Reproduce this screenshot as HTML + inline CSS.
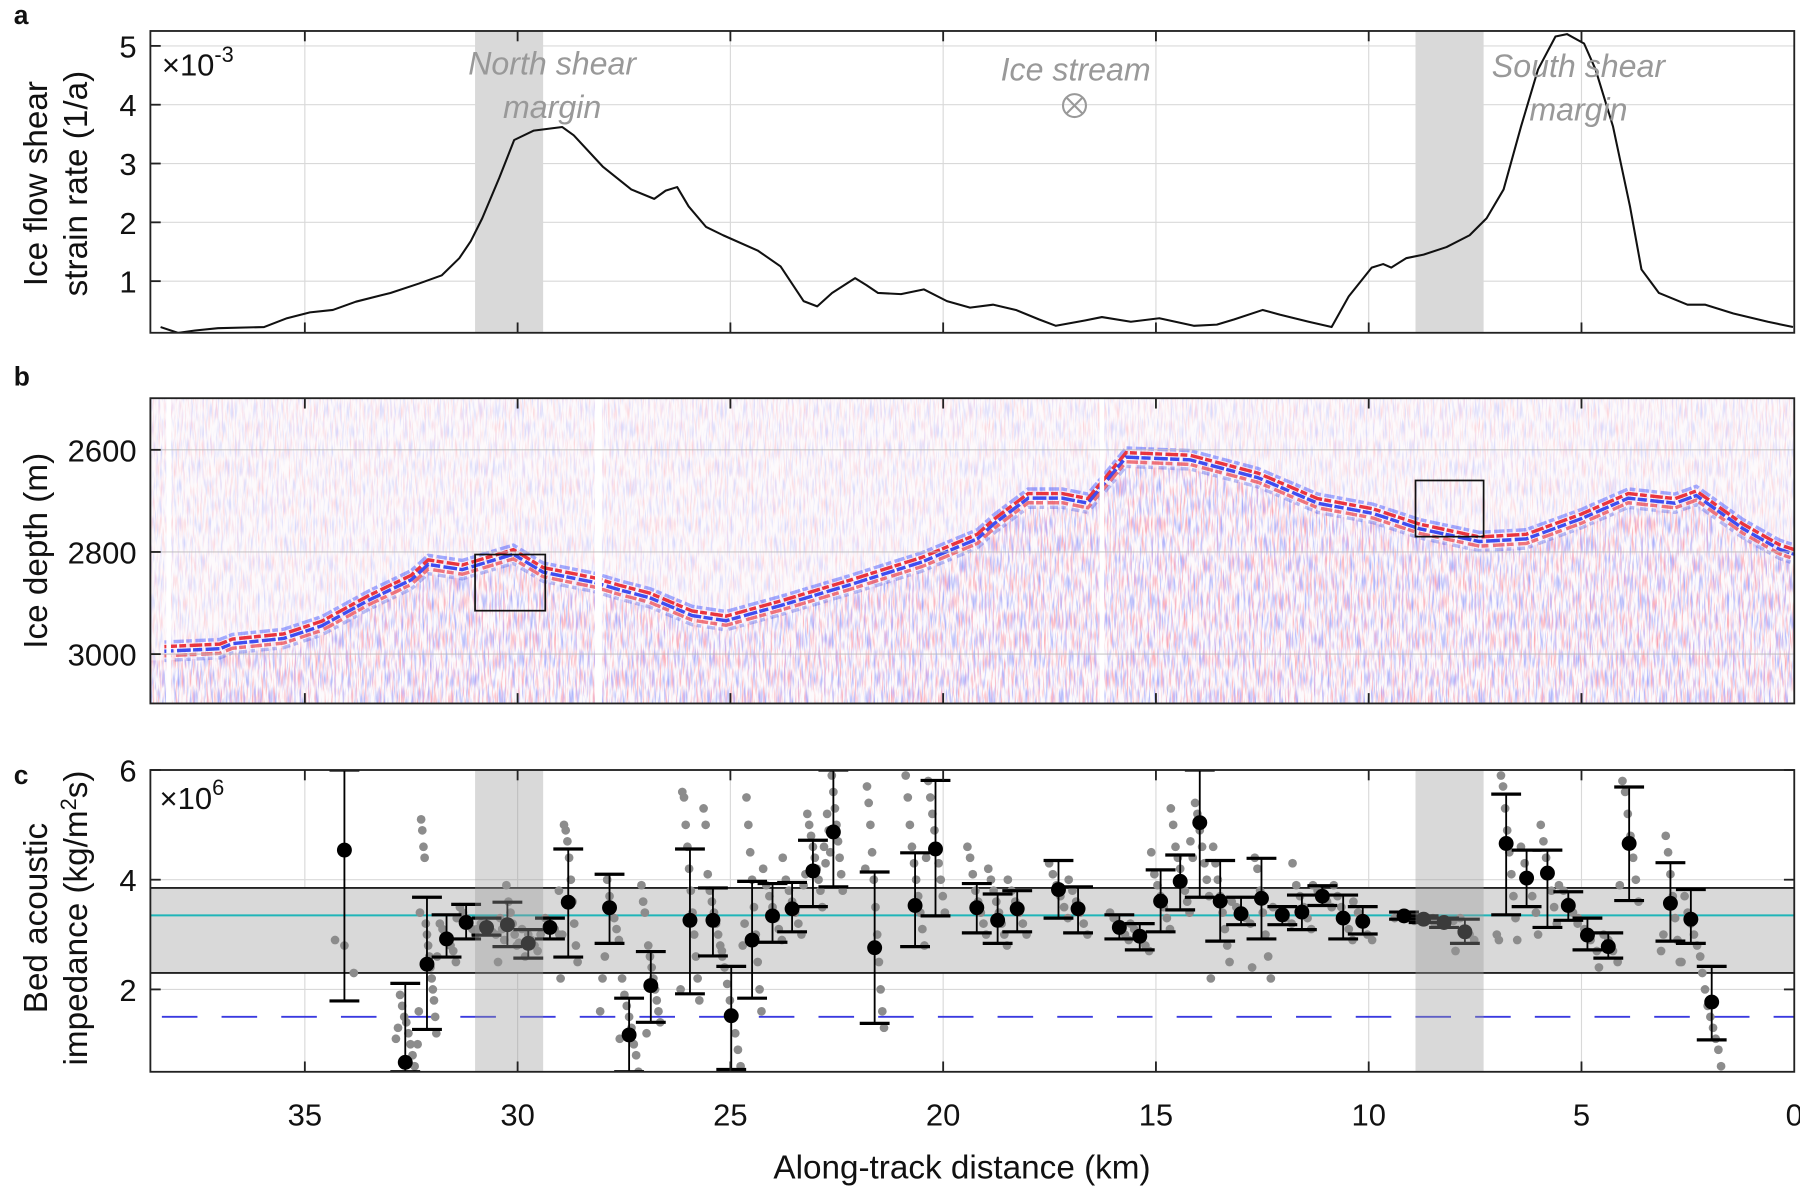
<!DOCTYPE html>
<html><head><meta charset="utf-8"><style>
html,body{margin:0;padding:0;background:#fff;}
svg{display:block;font-family:"Liberation Sans","DejaVu Sans",sans-serif;}
</style></head><body>
<svg id="fig" width="1800" height="1190" viewBox="0 0 1568 1037" preserveAspectRatio="none" xmlns="http://www.w3.org/2000/svg">
<defs>
<filter id="radarNoise" x="0" y="0" width="1" height="1">
<feTurbulence type="fractalNoise" baseFrequency="0.6 0.06" numOctaves="2" seed="3" result="n"/>
<feColorMatrix in="n" type="matrix" values="0 0 0 0 0.95  0 0 0 0 0.15  0 0 0 0 0.2  2.6 0 0 0 -1.25" result="r"/>
<feColorMatrix in="n" type="matrix" values="0 0 0 0 0.15  0 0 0 0 0.2  0 0 0 0 0.95  0 2.6 0 0 -1.25" result="b"/>
<feMerge><feMergeNode in="r"/><feMergeNode in="b"/></feMerge>
</filter>
<clipPath id="clipB"><rect x="131" y="347" width="1432" height="266"/></clipPath>
<clipPath id="clipC"><rect x="131" y="671" width="1432" height="263"/></clipPath>
<clipPath id="clipA"><rect x="131" y="27" width="1432" height="263"/></clipPath>
</defs>
<g id="layer"></g>
</svg>
<script>
// ---------- Panel a data ----------
const strainKm = [38.39,37.98,37.58,37.04,35.96,35.42,34.88,34.34,33.80,32.99,32.32,31.78,31.37,31.10,30.83,30.43,30.08,29.62,28.95,28.68,28.00,27.33,26.79,26.52,26.25,25.98,25.57,25.17,24.36,23.82,23.28,22.96,22.61,22.07,21.80,21.53,20.99,20.45,19.91,19.37,18.83,18.29,17.75,17.35,16.67,16.27,15.59,14.92,14.11,13.57,13.16,12.49,12.09,11.41,10.87,10.47,9.93,9.66,9.47,9.12,8.71,8.17,7.63,7.23,6.83,6.42,6.02,5.61,5.34,4.94,4.67,4.26,3.86,3.59,3.18,2.51,2.10,1.43,0.62,0.03];
const strainVal = [0.22,0.12,0.16,0.2,0.22,0.37,0.47,0.51,0.65,0.8,0.96,1.1,1.39,1.68,2.07,2.76,3.4,3.56,3.62,3.48,2.95,2.56,2.4,2.54,2.6,2.27,1.92,1.78,1.52,1.25,0.66,0.57,0.8,1.05,0.93,0.8,0.78,0.86,0.66,0.55,0.6,0.51,0.35,0.24,0.33,0.39,0.31,0.37,0.24,0.26,0.35,0.51,0.43,0.31,0.22,0.74,1.23,1.29,1.23,1.39,1.45,1.58,1.78,2.07,2.56,3.63,4.6,5.16,5.2,5.04,4.6,3.63,2.27,1.2,0.8,0.6,0.6,0.45,0.31,0.22];
const aTicks = [1,2,3,4,5];
const xTicks = [35,30,25,20,15,10,5,0];
// ---------- Panel b data ----------
const bedKm = [38.3,37.0,36.7,35.5,34.6,33.5,32.5,32.1,31.3,30.9,30.1,29.4,28.2,27.6,26.9,25.9,25.1,23.8,22.2,20.5,19.2,18.8,18.0,17.2,16.6,16.2,15.7,14.2,12.6,11.2,9.9,8.8,7.4,6.3,5.0,3.9,2.8,2.3,1.2,0.35,0];
const bedDepth = [2990,2985,2975,2965,2940,2890,2850,2820,2830,2820,2800,2835,2855,2870,2885,2920,2930,2900,2860,2815,2770,2740,2690,2690,2700,2660,2610,2615,2650,2700,2720,2750,2775,2770,2730,2690,2700,2685,2750,2790,2800];
const depthTicks = [2600,2800,3000];
// ---------- Panel c data ----------
const impKm = [34.07,32.64,32.13,31.67,31.21,30.73,30.24,29.75,29.24,28.81,27.84,27.38,26.87,25.95,25.41,24.98,24.49,24.01,23.55,23.06,22.58,21.61,20.66,20.18,19.21,18.72,18.26,17.29,16.83,15.86,15.38,14.89,14.43,13.97,13.49,13.00,12.52,12.03,11.57,11.09,10.60,10.14,9.17,8.71,8.23,7.74,6.77,6.29,5.80,5.31,4.86,4.37,3.88,2.91,2.43,1.94];
const impMean = [4.54,0.67,2.46,2.92,3.22,3.13,3.18,2.84,3.13,3.59,3.49,1.17,2.07,3.26,3.26,1.52,2.90,3.34,3.47,4.16,4.87,2.76,3.53,4.56,3.49,3.26,3.47,3.82,3.47,3.13,2.97,3.61,3.97,5.04,3.61,3.38,3.66,3.36,3.41,3.70,3.30,3.24,3.34,3.28,3.22,3.05,4.66,4.03,4.12,3.53,2.99,2.78,4.66,3.57,3.28,1.77];
const impHigh = [6.0,2.11,3.68,3.36,3.55,3.30,3.59,3.09,3.30,4.56,4.10,1.84,2.69,4.56,3.85,2.42,3.97,3.93,3.95,4.72,6.0,4.14,4.49,5.81,3.93,3.74,3.80,4.35,3.87,3.36,3.20,4.18,4.45,6.0,4.35,3.68,4.39,3.51,3.72,3.89,3.72,3.51,3.41,3.34,3.30,3.28,5.56,4.54,4.54,3.78,3.30,3.03,5.69,4.31,3.82,2.42];
const impLow = [1.79,0.5,1.27,2.59,2.92,2.99,2.78,2.57,2.92,2.59,2.84,0.5,1.40,1.92,2.61,0.54,1.84,2.86,3.05,3.51,3.87,1.38,2.78,3.34,3.03,2.84,3.05,3.30,3.03,2.92,2.72,3.05,3.45,3.68,2.88,3.18,2.92,3.18,3.09,3.53,2.92,3.01,3.28,3.22,3.13,2.84,3.36,3.51,3.13,3.26,2.72,2.57,3.62,2.88,2.84,1.08];
const impSamples = [
[2.3,2.8,2.9],[0.6,0.8,1.0,1.2,1.4,1.5,1.7,1.9,1.3,1.1],[1.2,1.5,1.8,2.0,2.2,2.4,2.6,2.8,3.0,3.2,4.4,4.6,4.9,5.1,3.4,1.6,1.0],
[2.5,2.7,2.8,2.9,3.0,3.1,3.2,2.6],[3.0,3.1,3.2,3.3,3.4,3.5,3.3],[3.0,3.05,3.1,3.15,3.2,3.1],[2.8,3.0,3.2,3.4,3.6,3.9,2.9,3.1,3.3,2.5],
[2.7,2.8,2.9,3.0,2.6,3.1,2.85],[3.0,3.1,3.2,3.3,3.0],[2.5,2.8,3.2,3.6,4.0,4.4,4.7,4.9,5.0,3.0,2.2,3.8],[2.9,3.1,3.3,3.5,3.7,4.0,2.6,2.2,1.6],
[0.5,0.8,1.0,1.3,1.5,1.7,1.9,2.2,1.1],[1.4,1.6,1.8,2.0,2.2,2.4,2.6,2.8,1.2,3.4,3.6,3.9],[1.8,2.2,2.6,3.0,3.4,3.8,4.2,4.6,5.0,5.5,5.6,2.0],
[2.6,2.8,3.0,3.2,3.4,3.6,3.8,4.1,5.0,5.3],[0.6,0.9,1.2,1.5,1.8,2.1,2.4,2.7],[1.6,2.0,2.5,3.0,3.5,4.0,4.5,5.0,5.5,3.2,2.8],
[2.9,3.1,3.3,3.5,3.7,3.9,4.2],[3.0,3.2,3.4,3.6,3.8,4.0,4.4],[3.5,3.8,4.0,4.2,4.4,4.6,4.8,5.0,5.2,4.1,3.9],
[3.8,4.1,4.4,4.7,5.0,5.3,5.6,5.9,4.5,4.9,5.2,4.3,4.6],[1.3,1.6,2.0,2.5,3.0,3.5,4.0,4.5,5.0,5.4,5.7,4.2],[2.8,3.1,3.4,3.7,4.0,4.3,4.6,5.0,5.5,5.9],
[3.4,3.7,4.0,4.3,4.6,4.9,5.2,5.5,5.8,4.4],[3.0,3.2,3.4,3.6,3.8,4.1,4.4,4.6],[2.8,3.0,3.2,3.4,3.6,3.8,4.0,4.2],[3.0,3.2,3.4,3.6,3.8,4.0],
[3.3,3.5,3.7,3.9,4.1,4.3],[3.0,3.2,3.4,3.6,3.8,4.0],[2.9,3.0,3.1,3.2,3.3,3.4],[2.7,2.8,2.9,3.0,3.1,3.2],[3.1,3.3,3.5,3.7,3.9,4.1,4.5],
[3.4,3.6,3.8,4.0,4.2,4.4,4.6,5.0,5.3],[3.7,4.0,4.3,4.6,4.9,5.2,5.4,4.4,4.7],[2.5,2.8,3.1,3.4,3.7,4.0,4.3,4.6,2.2],[3.2,3.3,3.4,3.5,3.6],
[2.2,2.6,3.0,3.4,3.8,4.2,4.4,2.4],[3.2,3.3,3.4,3.5],[3.1,3.3,3.5,3.7,3.9,4.3],[3.5,3.6,3.7,3.8,3.9],[2.9,3.1,3.3,3.5,3.7,3.9],
[2.9,3.0,3.2,3.4,3.6],[3.35,3.3],[3.3,3.25],[3.25,3.2],[2.9,3.0,3.1,3.3,2.7],[3.3,3.7,4.1,4.5,4.9,5.3,5.7,5.9,2.9,3.0],
[3.4,3.7,4.0,4.3,4.6,2.9],[3.2,3.5,3.8,4.1,4.4,4.7,5.0,3.0],[3.2,3.4,3.6,3.8,3.9],[2.7,2.9,3.1,3.3],[2.5,2.7,2.9,3.0,2.4],
[3.6,4.0,4.4,4.8,5.2,5.6,5.8,3.9],[2.5,2.9,3.3,3.7,4.1,4.5,4.8,3.0,2.7],[2.6,2.8,3.0,3.2,3.4,3.7,2.5],[0.6,0.9,1.1,1.3,1.5,1.7,2.0,2.3]];
const cTicks = [2,4,6];
const rangeBand = [2.3,3.85];
const cyanLevel = [3.35];
const dashedLevel = [1.5];
const marginBands = [[31.0,29.4],[8.9,7.3]];

const NS='http://www.w3.org/2000/svg';
const root=document.getElementById('layer');
function mk(tag,attrs,parent){const e=document.createElementNS(NS,tag);for(const k in attrs)e.setAttribute(k,attrs[k]);(parent||root).appendChild(e);return e;}
function txt(s,attrs,parent){const e=mk('text',attrs,parent);e.textContent=s;return e;}
const L=131,R=1563;
const X=km=>R-km*37.07;
const Ya=v=>40+(5-v)*51.25;
const Yb=d=>392+(d-2600)*0.445;
const Yc=v=>671+(6-v)*47.8;

function panelFrame(top,bot,name){
  const r=mk('rect',{x:L,y:top,width:R-L,height:bot-top,fill:'none',stroke:'#222','stroke-width':1.6});
  
  
}
function xGrid(top,bot,g){
  xTicks.forEach(t=>{ if(t===0)return; const x=X(t);
    const gl=mk('line',{x1:x,x2:x,y1:top,y2:bot,stroke:'#d9d9d9','stroke-width':1},g);
    
    
  });
}
function xTickMarks(top,bot,g){
  xTicks.forEach(t=>{ if(t===0)return; const x=X(t);
    mk('line',{x1:x,x2:x,y1:top,y2:top+9,stroke:'#222','stroke-width':1.6},g);
    mk('line',{x1:x,x2:x,y1:bot-9,y2:bot,stroke:'#222','stroke-width':1.6},g);
  });
}

// ================= Panel a =================
const ga=mk('g',{});


xGrid(27,290,ga);
aTicks.forEach(t=>{const y=Ya(t);
  const gl=mk('line',{x1:L,x2:R,y1:y,y2:y,stroke:'#d9d9d9','stroke-width':1},ga);
  
  
  mk('line',{x1:L,x2:L+9,y1:y,y2:y,stroke:'#222','stroke-width':1.6},ga);
  const tl=txt(String(t),{x:L-12,y:y+10,'font-size':27,'text-anchor':'end',fill:'#111'},ga);
  
  
});
marginBands.forEach((b,i)=>{
  const r=mk('rect',{x:X(b[0]),y:27,width:X(b[1])-X(b[0]),height:263,fill:'#d9d9d9','clip-path':'url(#clipA)'},ga);
  
  
});
xTickMarks(27,290,ga);
{
  const pts=strainKm.map((k,i)=>X(k).toFixed(1)+','+Ya(strainVal[i]).toFixed(1)).join(' ');
  const pl=mk('polyline',{points:pts,fill:'none',stroke:'#111','stroke-width':1.8,'clip-path':'url(#clipA)','stroke-linejoin':'round'},ga);
  
  
}
panelFrame(27,290,'panel-a-frame');
{
  const t=txt('×10',{x:141,y:66,'font-size':27,fill:'#111'});
  
  
  const ts=mk('tspan',{dy:-12,'font-size':19},t); ts.textContent='-3';
}
[['North shear',481,65],['margin',481,103],['Ice stream',937,70],['South shear',1375,67],['margin',1375,105]].forEach(a=>{
  const t=txt(a[0],{x:a[1],y:a[2],'font-size':28,'font-style':'italic','text-anchor':'middle',fill:'#999'});
  
  
});
{
  const g=mk('g',{});
  
  
  mk('circle',{cx:936,cy:92,r:10,fill:'none',stroke:'#999','stroke-width':1.8},g);
  mk('line',{x1:929,y1:85,x2:943,y2:99,stroke:'#999','stroke-width':1.8},g);
  mk('line',{x1:943,y1:85,x2:929,y2:99,stroke:'#999','stroke-width':1.8},g);
}
function rotLabel(lines,cx,cy,name){
  lines.forEach((s,i)=>{
    const x=cx+i*35, t=txt('',{x:x,y:cy,'font-size':29,'text-anchor':'middle',fill:'#111',transform:`rotate(-90 ${x} ${cy})`});
    if(typeof s==='string') t.textContent=s; else { s.forEach(p=>{const sp=mk('tspan',p[1]||{},t); sp.textContent=p[0];}); }
    
    
  });
}
rotLabel(['Ice flow shear','strain rate (1/a)'],41,160,'y-axis-title-a');

// ================= Panel b =================
const gb=mk('g',{'clip-path':'url(#clipB)'});


mk('rect',{x:L,y:347,width:R-L,height:266,fill:'#fdfafc'},gb);
mk('rect',{x:L,y:347,width:R-L,height:266,filter:'url(#radarNoise)',opacity:0.28},gb);
{
  const poly=bedKm.map((k,i)=>X(k).toFixed(1)+','+(Yb(bedDepth[i])+10).toFixed(1)).join(' ')+` ${X(0)},613 ${X(38.7)},613 ${X(38.7)},${Yb(bedDepth[0])+10}`;
  const cp=mk('clipPath',{id:'belowBed'},document.querySelector('defs'));
  mk('polygon',{points:poly},cp);
  mk('rect',{x:L,y:347,width:R-L,height:266,filter:'url(#radarNoise)',opacity:0.45,'clip-path':'url(#belowBed)'},gb);
  const offs=[[-6,'#4a5cff',0.5,'5 3 9 2'],[-2,'#e8202a',0.9,'11 2 6 3'],[2,'#2a3cf0',0.9,'8 3 12 2'],[6,'#e8202a',0.6,'6 4 10 2'],[10,'#3a4ce8',0.35,'4 5 7 3']];
  offs.forEach(o=>{
    const pts=bedKm.map((k,i)=>X(k).toFixed(1)+','+(Yb(bedDepth[i])+o[0]).toFixed(1)).join(' ');
    const pl=mk('polyline',{points:pts,fill:'none',stroke:o[1],'stroke-width':3,opacity:o[2],'stroke-dasharray':o[3]},gb);
    
    
  });
}
[[28.1,6],[16.27,4],[38.2,4]].forEach(g=>{mk('rect',{x:X(g[0])-g[1]/2,y:347,width:g[1],height:266,fill:'#fff'},gb);});
depthTicks.forEach(d=>{const y=Yb(d);
  mk('line',{x1:L,x2:R,y1:y,y2:y,stroke:'#bbb','stroke-width':1,opacity:0.8},gb);
});
const gb2=mk('g',{});
depthTicks.forEach(d=>{const y=Yb(d);
  mk('line',{x1:L,x2:L+9,y1:y,y2:y,stroke:'#222','stroke-width':1.6},gb2);
  const tl=txt(String(d),{x:L-12,y:y+10,'font-size':27,'text-anchor':'end',fill:'#111'},gb2);
  
  
});
xTickMarks(347,613,gb2);
[[31.0,29.35,2805,2915],[8.9,7.3,2660,2770]].forEach((b,i)=>{
  const r=mk('rect',{x:X(b[0]),y:Yb(b[2]),width:X(b[1])-X(b[0]),height:Yb(b[3])-Yb(b[2]),fill:'none',stroke:'#111','stroke-width':1.5},gb2);
  
  
});
panelFrame(347,613,'panel-b-frame');
rotLabel(['Ice depth (m)'],41,480,'y-axis-title-b');

// ================= Panel c =================
const gc=mk('g',{'clip-path':'url(#clipC)'});


xGrid(671,934,gc);
cTicks.forEach(t=>{const y=Yc(t);
  const gl=mk('line',{x1:L,x2:R,y1:y,y2:y,stroke:'#d9d9d9','stroke-width':1},gc);
  
  
});
{
  const r=mk('rect',{x:L,y:Yc(rangeBand[1]),width:R-L,height:Yc(rangeBand[0])-Yc(rangeBand[1]),fill:'#d9d9d9',stroke:'none'},gc);
  
  
  rangeBand.forEach(v=>mk('line',{x1:L,x2:R,y1:Yc(v),y2:Yc(v),stroke:'#222','stroke-width':1.6},gc));
  const c=mk('line',{x1:L,x2:R,y1:Yc(cyanLevel[0]),y2:Yc(cyanLevel[0]),stroke:'#1fb5b8','stroke-width':1.8},gc);
  
  
  const d=mk('line',{x1:L+10,x2:R,y1:Yc(dashedLevel[0]),y2:Yc(dashedLevel[0]),stroke:'#3a3ae0','stroke-width':1.6,'stroke-dasharray':'31 21'},gc);
  
  
}
impSamples.forEach((arr,i)=>{
  const n=arr.length;
  arr.forEach((v,j)=>{
    const off=n>1?(-0.22+0.44*j/(n-1)):0;
    const c=mk('circle',{cx:X(impKm[i]+off),cy:Yc(v),r:3.8,fill:'#8c8c8c'},gc);
    
    
  });
});
impKm.forEach((k,i)=>{
  const x=X(k);
  const g=mk('g',{},gc);
  
  
  mk('line',{x1:x,x2:x,y1:Yc(impHigh[i]),y2:Yc(impLow[i]),stroke:'#000','stroke-width':1.6},g);
  mk('line',{x1:x-13,x2:x+13,y1:Yc(impHigh[i]),y2:Yc(impHigh[i]),stroke:'#000','stroke-width':2.8},g);
  mk('line',{x1:x-13,x2:x+13,y1:Yc(impLow[i]),y2:Yc(impLow[i]),stroke:'#000','stroke-width':2.8},g);
  const c=mk('circle',{cx:x,cy:Yc(impMean[i]),r:6.5,fill:'#000'},gc);
  
  
});
marginBands.forEach((b,i)=>{
  const r=mk('rect',{x:X(b[0]),y:671,width:X(b[1])-X(b[0]),height:263,fill:'#9a9a9a','fill-opacity':0.38},gc);
  
  
});
const gc2=mk('g',{});
cTicks.forEach(t=>{const y=Yc(t);
  mk('line',{x1:L,x2:L+9,y1:y,y2:y,stroke:'#222','stroke-width':1.6},gc2);
  mk('line',{x1:R-9,x2:R,y1:y,y2:y,stroke:'#222','stroke-width':1.6},gc2);
  const tl=txt(String(t),{x:L-12,y:y+10,'font-size':27,'text-anchor':'end',fill:'#111'},gc2);
  
  
});
xTickMarks(671,934,gc2);
xTicks.forEach(t=>{
  const tl=txt(String(t),{x:X(t),y:981,'font-size':27,'text-anchor':'middle',fill:'#111'},gc2);
  
  
});
panelFrame(671,934,'panel-c-frame');
{
  const t=txt('×10',{x:139,y:705,'font-size':27,fill:'#111'});
  
  
  const ts=mk('tspan',{dy:-12,'font-size':19},t); ts.textContent='6';
}
rotLabel(['Bed acoustic',[['impedance (kg/m'],['2',{dy:-10,'font-size':19}],['s)',{dy:10}]]],41,800,'y-axis-title-c');
{
  const t=txt('Along-track distance (km)',{x:838,y:1027,'font-size':29,'text-anchor':'middle',fill:'#111'});
  
  
}
[['a',21],['b',336],['c',683]].forEach(p=>{
  const t=txt(p[0],{x:12,y:p[1],'font-size':23,'font-weight':'bold',fill:'#111'});
  
  
});
</script>
</body></html>
